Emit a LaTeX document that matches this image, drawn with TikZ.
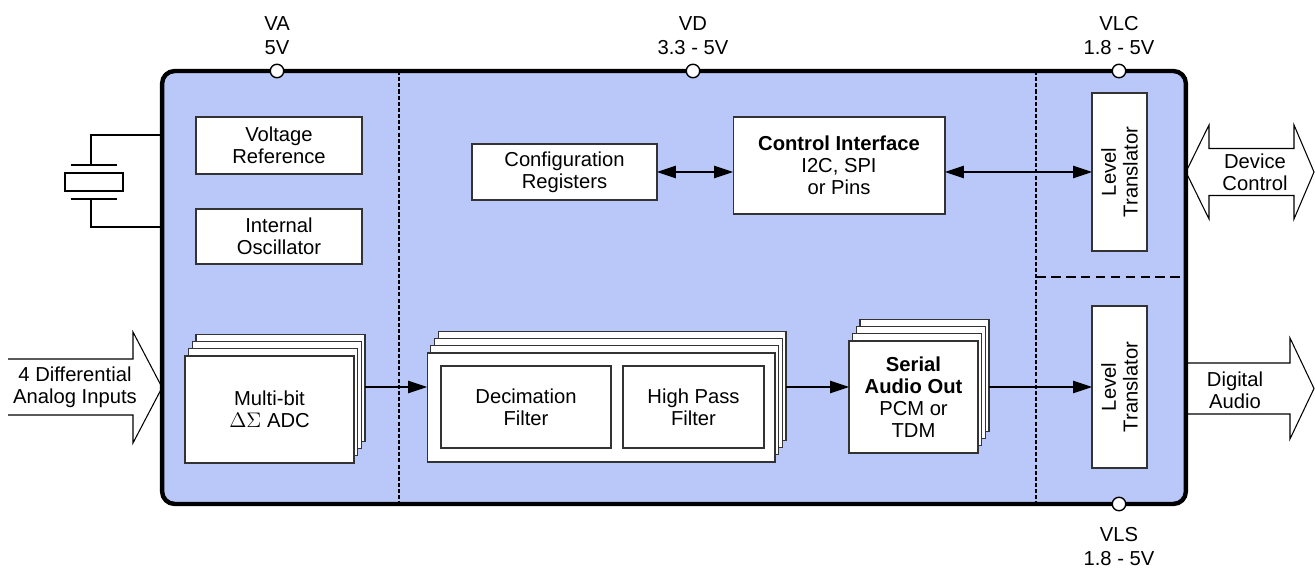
\documentclass[tikz,border=0pt]{standalone}
\usepackage{fontspec}
\setmainfont{Liberation Sans}
\usepackage{tikz}
\usetikzlibrary{arrows.meta,calc,positioning,shadows}
\definecolor{ChipBlue}{RGB}{185,200,248}

\begin{document}
\begin{tikzpicture}[x=0.02cm, y=-0.02cm, >={Triangle[length=0.38cm,width=0.25cm]},
    font=\fontsize{11.5}{12.5}\selectfont,
    chip/.style={draw, line width=2.5pt, fill=ChipBlue, rounded corners=0.25cm, outer sep=0pt},
    blk/.style={draw=black!80, line width=0.6pt, fill=white, align=center, inner sep=1pt, outer sep=0pt},
    stack/.style={blk, copy shadow={shadow xshift=0.22cm, shadow yshift=0.435cm}, copy shadow={shadow xshift=0.147cm, shadow yshift=0.29cm}, copy shadow={shadow xshift=0.073cm, shadow yshift=0.145cm}},
    pin/.style={circle, draw, line width=0.8pt, fill=white, minimum size=0.27cm, inner sep=0pt},
    pinlbl/.style={align=center, font=\fontsize{11.5}{13.6}\selectfont},
    sig/.style={line width=0.6pt},
    divider/.style={line width=0.6pt, dash pattern=on 2.3pt off 1.2pt},
    bigarrow/.style={draw, line width=0.6pt, line join=miter}]
    \useasboundingbox (0,0) rectangle (1315,570);
    \node[chip, minimum width=20.48cm, minimum height=8.66cm] (chip) at (674,287.5) {};

    %% Dividers
    \coordinate (cut1) at (399,0);
    \coordinate (cut2) at (1036,0);
    \coordinate (cut3) at (0,277);
    \draw[divider] (cut1 |- chip.north) -- (cut1 |- chip.south);
    \draw[divider] (cut2 |- chip.north) -- (cut2 |- chip.south);
    \draw[line width=0.9pt, dash pattern=on 5.5pt off 3pt] (cut2 |- cut3) -- (chip.east |- cut3);

    %% Supply pins
    \node[pin] (va) at (277,71) {};
    \node[pin] (vd) at (693,71) {};
    \node[pin] (vlc) at (1119,71) {};
    \node[pin] (vls) at (1119,504) {};
    \node[pinlbl, above=0.05cm of va] (valbl) {VA\\5V};
    \node[pinlbl, above=0.05cm of vd] (vdlbl) {VD\\3.3 - 5V};
    \node[pinlbl, above=0.05cm of vlc] (vlclbl) {VLC\\1.8 - 5V};
    \node[pinlbl, below=0.2cm of vls] (vlslbl) {VLS\\1.8 - 5V};

    %% Blocks
    \node[blk, minimum width=3.32cm, minimum height=1.14cm] (vref) at (279,145.5) {Voltage\\Reference};
    \node at (vref) [yshift=-1.82cm, blk, minimum width=3.32cm, minimum height=1.1cm] (osc) {Internal\\Oscillator};
    \node[stack, minimum width=3.38cm, minimum height=2.14cm] (adc) at (269.5,409.5) {Multi-bit\\$\Delta\Sigma$ ADC};
    \node[stack, minimum width=6.96cm, minimum height=2.18cm] (filt) at (601,407.5) {};
    \node[blk, minimum width=3.4cm, minimum height=1.64cm] (dec) at (526,407) {Decimation\\Filter};
    \node[blk, minimum width=2.82cm, minimum height=1.64cm] (hpf) at (693.5,407) {High Pass\\Filter};
    \node[stack, minimum width=2.58cm, minimum height=2.24cm] (sao) at (913.5,397) {\textbf{Serial}\\\textbf{Audio Out}\\PCM or\\TDM};
    \node[blk, minimum width=3.7cm, minimum height=1.12cm] (cfg) at (564.5,172) {Configuration\\Registers};
    \node[blk, minimum width=4.24cm, minimum height=1.94cm] (ctl) at (839,165.5) {\textbf{Control Interface}\\I2C, SPI\\or Pins};
    \node[blk, rotate=90, minimum width=3.16cm, minimum height=1.1cm] (lt1) at (1119.5,172) {Level\\Translator};
    \node[blk, rotate=90, minimum width=3.24cm, minimum height=1.1cm] (lt2) at (1119.5,387) {Level\\Translator};

    %% Arrows
    \coordinate (adcout) at ([xshift=0.22cm]adc.east);
    \coordinate (filtout) at ([xshift=0.22cm]filt.east);
    \coordinate (saoout) at ([xshift=0.22cm]sao.east);
    \draw[sig, <->] (cfg.east) -- (cfg.east -| ctl.west);
    \draw[sig, <->] (ctl.east |- lt1) -- (lt1.north);
    \draw[sig, ->] (adcout |- lt2) -- (filt.west |- lt2);
    \draw[sig, ->] (filtout |- lt2) -- (sao.west |- lt2);
    \draw[sig, ->] (saoout |- lt2) -- (lt2.north);

    %% Crystal
    \node[draw, line width=1.2pt, minimum width=1.16cm, minimum height=0.36cm, inner sep=0pt] (xtal) at (94,182) {};
    \coordinate (plt1) at ([yshift=0.34cm]xtal.center);
    \coordinate (plt2) at ([yshift=-0.34cm]xtal.center);
    \coordinate (xw1) at (91,135);
    \coordinate (xw2) at (91,227);
    \draw[line width=1.4pt] ([xshift=-0.47cm]plt1) -- ([xshift=0.47cm]plt1);
    \draw[line width=1.4pt] ([xshift=-0.47cm]plt2) -- ([xshift=0.47cm]plt2);
    \draw[sig] (chip.west |- xw1) -- (xw1) -- (xw1 |- plt1);
    \draw[sig] (chip.west |- xw2) -- (xw2) -- (xw2 |- plt2);

    %% Bus arrows
    \node[align=center] (ain) at (75,387.5) {4 Differential\\Analog Inputs};
    \draw[bigarrow] (8,359) -- (133,359) -- (133,332) -- (chip.west |- ain) -- (133,443) -- (133,415) -- (8,415);
    \node[align=center] (dctl) at (1255,172) {Device\\Control};
    \draw[bigarrow] (chip.east |- dctl) -- (1209,125) -- (1209,148.5) -- (1294,148.5) -- (1294,125) -- (1314,172) -- (1294,219) -- (1294,195.5) -- (1209,195.5) -- (1209,219) -- cycle;
    \node[align=center] (daud) at (1235,390) {Digital\\Audio};
    \draw[bigarrow] (1188,363) -- (1290,363) -- (1290,338) -- (1314,388.5) -- (1290,439) -- (1290,414) -- (1188,414);
\end{tikzpicture}
\end{document}
